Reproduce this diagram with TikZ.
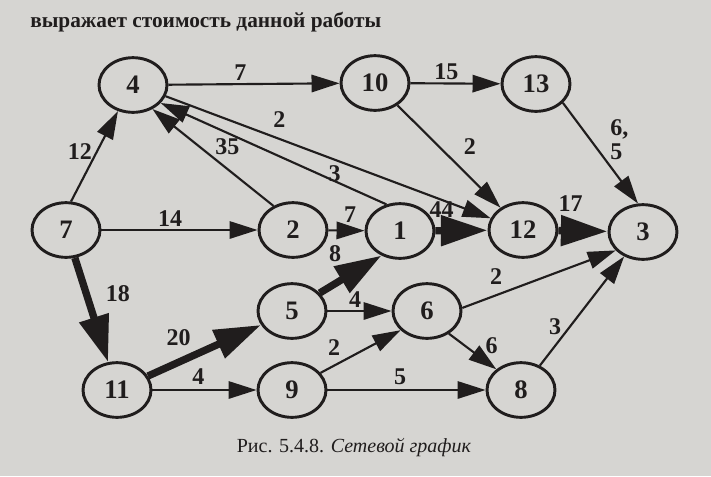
\documentclass[tikz,border=0pt]{standalone}
\usepackage{fontspec}
\setmainfont{Liberation Serif}
\usetikzlibrary{arrows.meta,shapes.geometric}
\definecolor{paper}{RGB}{214,213,210}
\definecolor{ink}{RGB}{32,29,29}
\tikzset{
	ev/.style={draw=ink, ellipse, line width=2.2pt, minimum width=51pt, minimum height=41pt,
		inner sep=0pt, text=ink, font=\fontsize{20}{20}\selectfont\bfseries},
	act/.style={draw=ink, line width=1.6pt, -{Triangle[length=21pt,width=13pt]}},
	crit/.style={draw=ink, line width=5.5pt, -{Triangle[length=35pt,width=22pt]}},
	lbl/.style={text=ink, inner sep=1pt, font=\fontsize{18}{16}\selectfont\bfseries},
	txt/.style={text=ink, inner sep=0pt, font=\fontsize{16}{16}\selectfont\bfseries},
}
\begin{document}
\begin{tikzpicture}[x=0.75pt, y=-0.75pt]
	\path[use as bounding box, fill=paper] (0,0) rectangle (711,476);
	\node[txt, anchor=base west] at (30,27) (head) {выражает стоимость данной работы};
	% events
	\node[ev] at (133,85) (n4) {4};
	\node[ev] at (375,83) (n10) {10};
	\node[ev] at (536,84) (n13) {13};
	\node[ev] at (66,230) (n7) {7};
	\node[ev] at (293,230) (n2) {2};
	\node[ev] at (400,231) (n1) {1};
	\node[ev] at (523,230) (n12) {12};
	\node[ev] at (643,232) (n3) {3};
	\node[ev] at (292,311) (n5) {5};
	\node[ev] at (427,311) (n6) {6};
	\node[ev] at (117,390) (n11) {11};
	\node[ev] at (292,390) (n9) {9};
	\node[ev] at (521,390) (n8) {8};
	% activities
	\draw[act] (n4) -- (n10) node[lbl, pos=0.42, above=1pt] {7};
	\draw[act] (n10) -- (n13) node[lbl, pos=0.4, above=1pt] {15};
	\draw[act] (n10) -- (n12) node[lbl, pos=0.4, right=17pt] {2};
	\draw[act] (n13.-35) -- (n3.100) node[lbl, pos=0.37, right=13pt, align=left] {6,\\[2pt]5};
	\draw[act] (n4.-19) -- (n12.160) node[lbl, pos=0.35, above=7pt] {2};
	\draw[act] (n1.117) -- (n4.-33) node[lbl, pos=0.23, above=-2pt] {3};
	\draw[act] (n2.129) -- (n4.-51) node[lbl, pos=0.5, above right=0pt] {35};
	\draw[act] (n7.80) -- (n4.-120) node[lbl, pos=0.55, left=2pt] {12};
	\draw[act] (n7) -- (n2) node[lbl, pos=0.44, above=1pt] {14};
	\draw[act] (n2) -- (n1) node[lbl, pos=0.6, above=4pt] {7};
	\draw[crit] (n1) -- (n12) node[lbl, pos=0.12, above=6pt] {44};
	\draw[crit] (n12) -- (n3) node[lbl, pos=0.25, above=11pt] {17};
	\draw[crit] (n7) -- (n11) node[lbl, pos=0.34, right=11pt] {18};
	\draw[crit] (n11) -- (n5) node[lbl, pos=0.27, above=9pt] {20};
	\draw[act] (n11) -- (n9) node[lbl, pos=0.44, above=2.5pt] {4};
	\draw[crit] (n5.33) -- (n1.-127) node[lbl, pos=0.25, above=13pt] {8};
	\draw[act] (n5) -- (n6) node[lbl, pos=0.43, above=1pt] {4};
	\draw[act] (n9.31) -- (n6.-144) node[lbl, pos=0.17, above=6pt] {2};
	\draw[act] (n9) -- (n8) node[lbl, pos=0.46, above=2.5pt] {5};
	\draw[act] (n6.-46) -- (n8.140) node[lbl, pos=0.9, above=7pt] {6};
	\draw[act] (n6.5) -- (n3.-146) node[lbl, pos=0.22, above=6pt] {2};
	\draw[act] (n8) -- (n3) node[lbl, pos=0.36, left=5pt] {3};
	\node[txt, anchor=base, font=\fontsize{15}{15}\selectfont] at (354,452) (cap) {Рис. 5.4.8. \textit{Сетевой график}};
\end{tikzpicture}
\end{document}
